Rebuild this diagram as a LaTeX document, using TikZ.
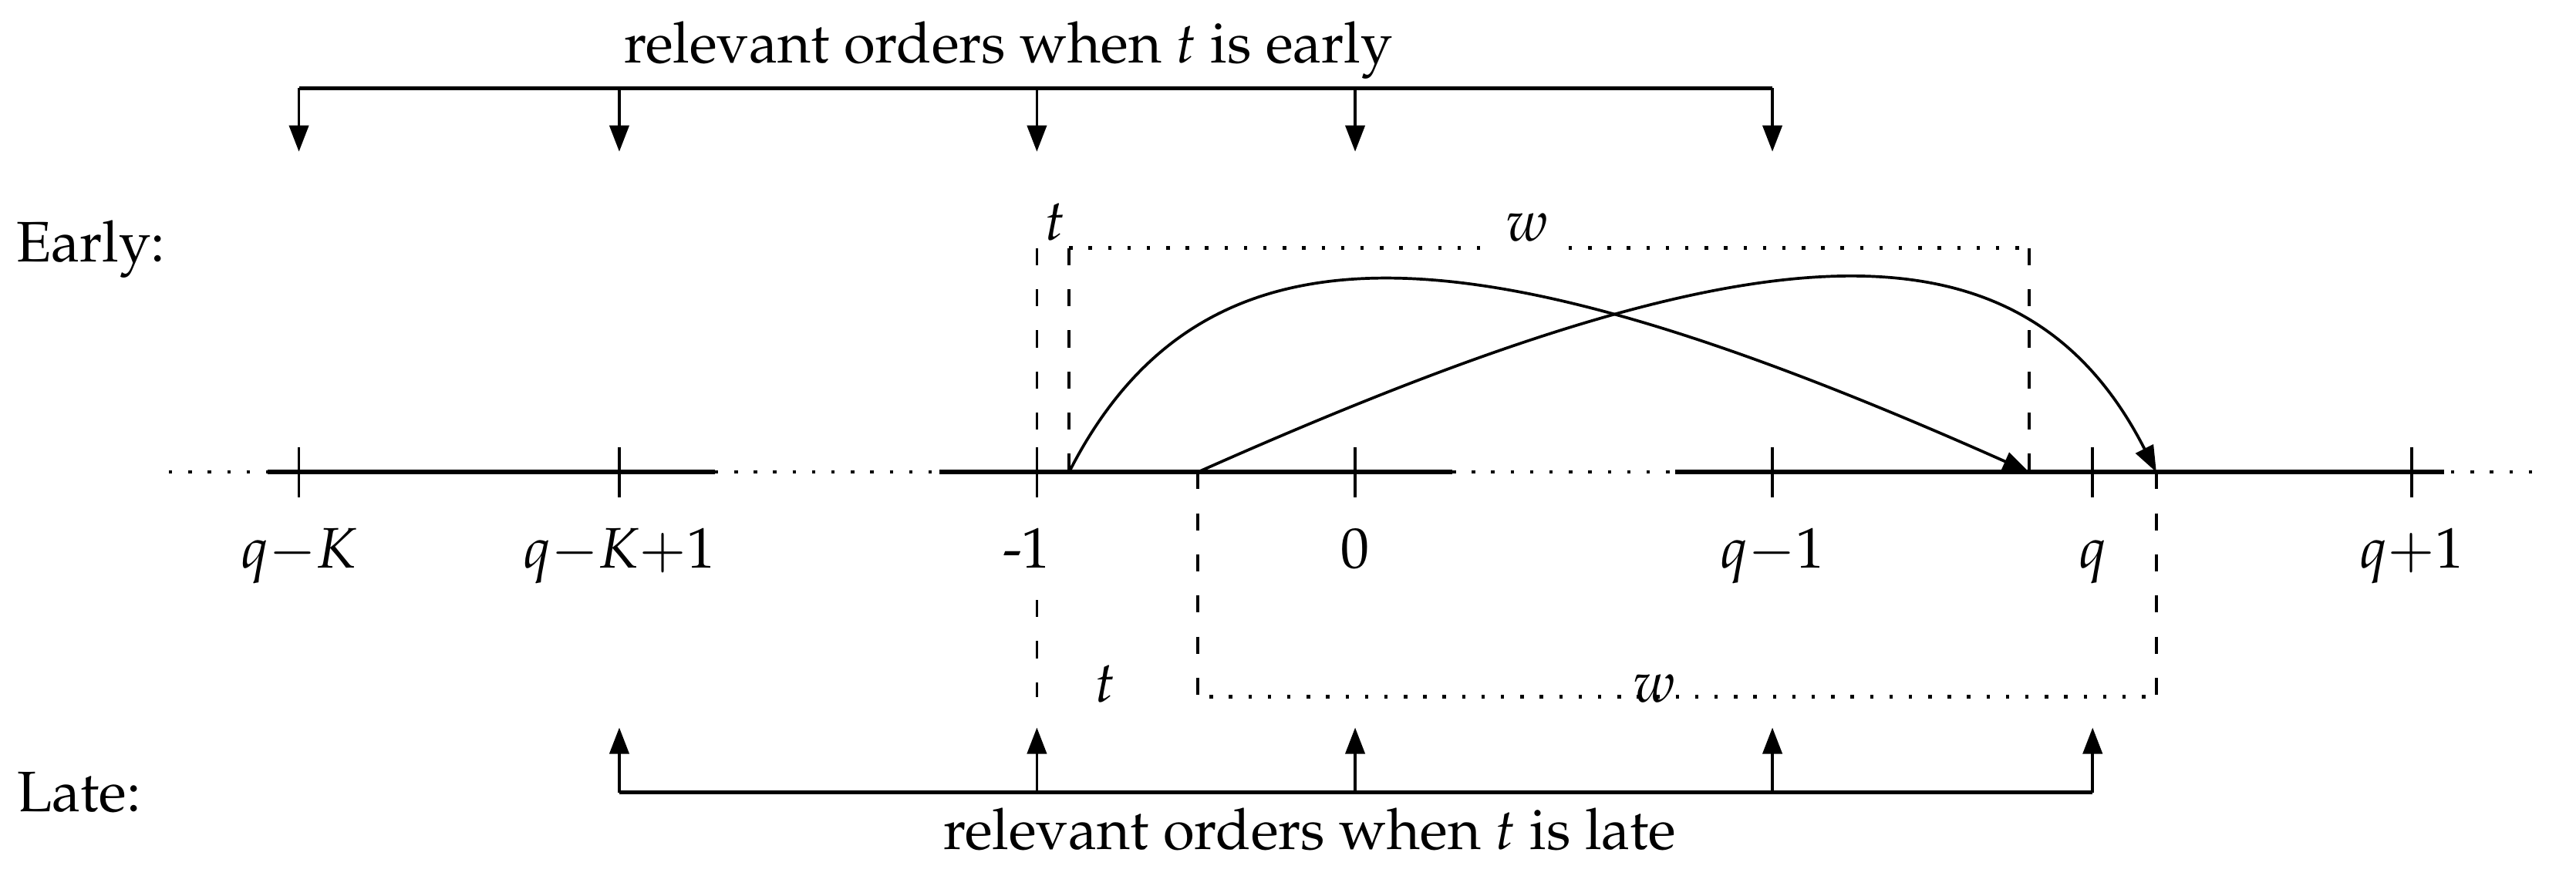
\documentclass[tikz,border=0pt]{standalone}
\usepackage[T1]{fontenc}
\usepackage{mathpazo}
\usepackage{amsmath}
\usetikzlibrary{calc, arrows.meta, positioning}

\begin{document}
\begin{tikzpicture}[
    thinline/.style={line width=0.5pt},
    thickline/.style={line width=0.8pt},
    brkline/.style={line width=0.7pt},
    dotline/.style={line width=0.6pt, dash pattern=on 0.6pt off 2.8pt},
    dashline/.style={line width=0.5pt, dash pattern=on 3pt off 4.2pt},
    pointer/.style={line width=0.5pt, -{Triangle[length=4.6pt, width=3.4pt]}}
  ]
  \useasboundingbox (-1.839,-2.485) rectangle (14.009,2.905);
  \def\h{0.155};

  % number line
  \draw[dotline] (-0.800,0) -- (-0.191,0);
  \draw[thickline] (-0.191,0) -- (2.559,0);
  \draw[dotline] (2.559,0) -- (3.940,0);
  \draw[thickline] (3.940,0) -- (7.096,0);
  \draw[dotline] (7.096,0) -- (8.467,0);
  \draw[thickline] (8.467,0) -- (13.198,0);
  \draw[dotline] (13.240,0) -- (13.825,0);

  \foreach \x/\name/\lab/\sh in {0/qK/{$q{-}K$}/0, 1.971/qKa/{$q{-}K{+}1$}/0,
      4.540/m1/{-1}/-0.064, 6.498/zero/{$0$}/0, 9.065/qm/{$q{-}1$}/0,
      11.035/q/{$q$}/0, 12.998/qp/{$q{+}1$}/0} {
    \coordinate (\name) at (\x,0);
    \draw[thinline] ($(\name)+(0,\h)$) -- ($(\name)+(0,-\h)$);
    \node[anchor=base] (l\name) at ($(\name)+(\sh,-0.590)$) {\lab};
  }

  % relevant orders, early
  \node[anchor=base] (etitle) at (4.365,2.516) {relevant orders when $t$ is early};
  \draw[brkline] ($(qK)+(0,2.363)$) -- ($(qm)+(0,2.363)$);
  \foreach \n in {qK, qKa, m1, zero, qm}
    \draw[pointer] ($(\n)+(0,2.363)$) -- ($(\n)+(0,1.972)$);

  \node[anchor=base west, inner sep=0] (early) at (-1.746,1.292) {Early:};

  % early window
  \coordinate (es) at (4.738,0);
  \coordinate (ee) at (10.644,0);
  \coordinate (esT) at ($(es)+(0,1.379)$);
  \coordinate (eeT) at ($(ee)+(0,1.379)$);
  \coordinate (m1T) at ($(m1)+(0,1.379)$);
  \node[anchor=base] (et) at (4.649,1.425) {$t$};
  \node[anchor=base] (ew) at (7.556,1.420) {$w$};
  \draw[dashline] (m1T) -- (m1);
  \draw[dashline] (esT) -- (es);
  \draw[dashline] (eeT) -- (ee);
  \draw[dotline] (esT) -- (esT -| ew.west);
  \draw[dotline] (eeT -| ew.east) -- (eeT);

  % late window
  \coordinate (ls) at (5.530,0);
  \coordinate (le) at (11.427,0);
  \coordinate (lsB) at ($(ls)+(0,-1.382)$);
  \coordinate (leB) at ($(le)+(0,-1.382)$);
  \coordinate (m1B) at ($(m1)+(0,-1.382)$);
  \draw[dashline] ($(m1)+(0,-0.787)$) -- (m1B);
  \draw[dashline] (ls) -- (lsB);
  \draw[dashline] (le) -- (leB);
  \draw[dotline] ($(lsB)+(0.072,0)$) -- (leB);
  \node[anchor=base] (lt) at (4.960,-1.417) {$t$};
  \node[anchor=base] (lw) at (8.339,-1.417) {$w$};

  % shifts
  \draw[pointer] (es) .. controls +(63:1.90) and +(156:3.61) .. (ee);
  \draw[pointer] (ls) .. controls +(24:3.61) and +(117:1.90) .. (le);

  % relevant orders, late
  \draw[brkline] ($(qKa)+(0,-1.971)$) -- ($(q)+(0,-1.971)$);
  \foreach \n in {qKa, m1, zero, qm, q}
    \draw[pointer] ($(\n)+(0,-1.971)$) -- ($(\n)+(0,-1.572)$);
  \node[anchor=base] (ltitle) at (6.220,-2.323) {relevant orders when $t$ is late};

  \node[anchor=base west, inner sep=0] (late) at (-1.741,-2.090) {Late:};
\end{tikzpicture}
\end{document}
